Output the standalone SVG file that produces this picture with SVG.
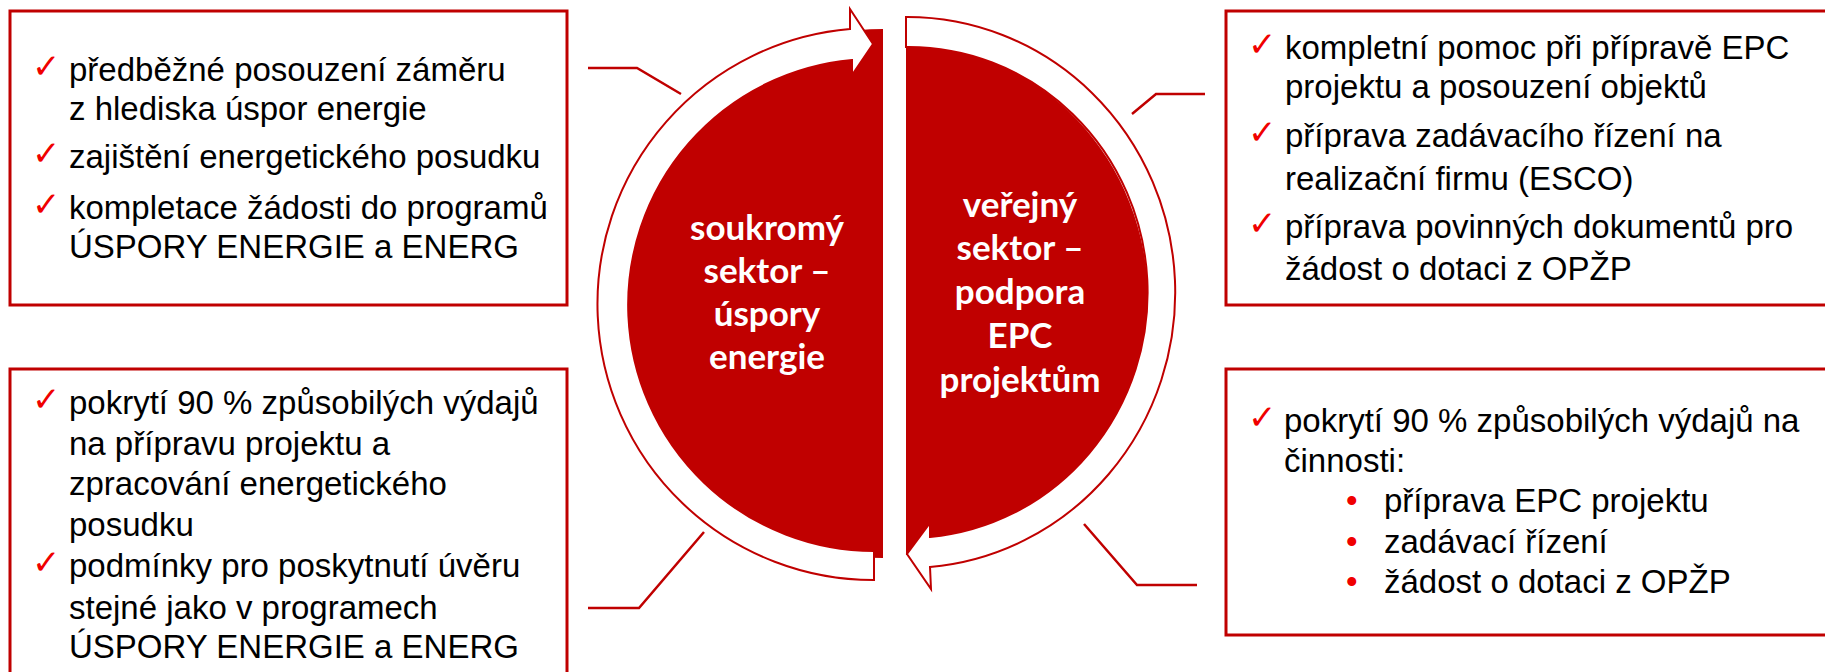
<svg xmlns="http://www.w3.org/2000/svg" width="1825" height="672" viewBox="0 0 1825 672">
<style>
.box{fill:#fff;stroke:#C00000;stroke-width:3}
.con{fill:none;stroke:#C00000;stroke-width:2.5}
.fill{fill:#C00000}
.arr{fill:#fff;stroke:#C00000;stroke-width:2;stroke-linejoin:miter}
.t{font-family:"Liberation Sans",Arial,sans-serif;font-size:33px;fill:#000}
.ck{font-family:"DejaVu Sans",sans-serif;font-size:34px;fill:#F00000}
.bl{font-family:"Liberation Sans",Arial,sans-serif;font-size:33px;fill:#F00000}
.c{font-family:Lato,"Open Sans",sans-serif;font-weight:bold;font-size:35px;fill:#fff;text-anchor:middle}
</style>
<rect width="1825" height="672" fill="#fff"/>
<g id="connectors">
<polyline class="con" points="588,68 637,68 681,94"/>
<polyline class="con" points="588,608 639,608 704,532"/>
<polyline class="con" points="1205,94 1156,94 1132,114"/>
<polyline class="con" points="1084,524 1137,585 1197,585"/>
</g>
<g id="left-circle">
<path class="fill" d="M883 29 A264.5 264.5 0 0 0 883 558 Z"/>
<path class="arr" d="M874 580 A276 276 0 0 1 850 29 L850 9 L873 44 L852 75 L852 60 A246 246 0 0 0 874 551 Z"/>
<text class="c" x="767" y="240">soukromý</text>
<text class="c" x="767" y="283">sektor –</text>
<text class="c" x="767" y="326">úspory</text>
<text class="c" x="767" y="369">energie</text>
</g>
<g id="right-circle">
<path class="fill" d="M906 45 A242 255 0 0 1 906 555 Z"/>
<path class="arr" d="M906 17 A268 275.5 0 0 1 930 567 L931 589 L907 554 L930 523 L930 537 A239 245.5 0 0 0 906 47 Z"/>
<text class="c" x="1020" y="217">veřejný</text>
<text class="c" x="1020" y="260">sektor –</text>
<text class="c" x="1020" y="304">podpora</text>
<text class="c" x="1020" y="348">EPC</text>
<text class="c" x="1020" y="392">projektům</text>
</g>
<g id="box-top-left">
<rect class="box" x="10" y="11" width="557" height="294"/>
<text class="ck" x="32" y="78">✓</text>
<text class="t" x="69" y="81">předběžné posouzení záměru</text>
<text class="t" x="69" y="120">z hlediska úspor energie</text>
<text class="ck" x="32" y="165">✓</text>
<text class="t" x="69" y="168">zajištění energetického posudku</text>
<text class="ck" x="32" y="216">✓</text>
<text class="t" x="69" y="219">kompletace žádosti do programů</text>
<text class="t" x="69" y="258">ÚSPORY ENERGIE a ENERG</text>
</g>
<g id="box-bottom-left">
<rect class="box" x="10" y="369" width="557" height="330"/>
<text class="ck" x="32" y="411">✓</text>
<text class="t" x="69" y="414">pokrytí 90 % způsobilých výdajů</text>
<text class="t" x="69" y="455">na přípravu projektu a</text>
<text class="t" x="69" y="495">zpracování energetického</text>
<text class="t" x="69" y="536">posudku</text>
<text class="ck" x="32" y="574">✓</text>
<text class="t" x="69" y="577">podmínky pro poskytnutí úvěru</text>
<text class="t" x="69" y="619">stejné jako v programech</text>
<text class="t" x="69" y="658">ÚSPORY ENERGIE a ENERG</text>
</g>
<g id="box-top-right">
<rect class="box" x="1226" y="11" width="640" height="294"/>
<text class="ck" x="1248" y="56">✓</text>
<text class="t" x="1285" y="59">kompletní pomoc při přípravě EPC</text>
<text class="t" x="1285" y="98">projektu a posouzení objektů</text>
<text class="ck" x="1248" y="144">✓</text>
<text class="t" x="1285" y="147">příprava zadávacího řízení na</text>
<text class="t" x="1285" y="190">realizační firmu (ESCO)</text>
<text class="ck" x="1248" y="235">✓</text>
<text class="t" x="1285" y="238">příprava povinných dokumentů pro</text>
<text class="t" x="1285" y="280">žádost o dotaci z OPŽP</text>
</g>
<g id="box-bottom-right">
<rect class="box" x="1226" y="369" width="640" height="266"/>
<text class="ck" x="1248" y="429">✓</text>
<text class="t" x="1284" y="432">pokrytí 90 % způsobilých výdajů na</text>
<text class="t" x="1284" y="472">činnosti:</text>
<text class="bl" x="1346" y="512">•</text>
<text class="t" x="1384" y="512">příprava EPC projektu</text>
<text class="bl" x="1346" y="553">•</text>
<text class="t" x="1384" y="553">zadávací řízení</text>
<text class="bl" x="1346" y="593">•</text>
<text class="t" x="1384" y="593">žádost o dotaci z OPŽP</text>
</g>
</svg>
